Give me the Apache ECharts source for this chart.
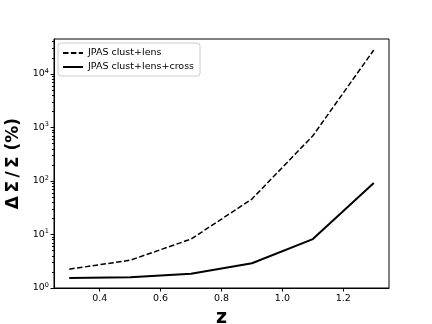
<!DOCTYPE html>
<html>
<head>
<meta charset="utf-8">
<script src="https://cdn.jsdelivr.net/npm/echarts@6/dist/echarts.min.js"></script>
<style>
  html, body { margin: 0; padding: 0; background: #fff; }
  #chart { width: 432px; height: 324px; }
</style>
</head>
<body>
<div id="chart"></div>
<script>
const Z = [0.3, 0.5, 0.7, 0.9, 1.1, 1.3];
const CLUST_LENS = [2.25, 3.3, 8.2, 46, 700, 28000];
const CLUST_LENS_CROSS = [1.53, 1.58, 1.85, 2.9, 8.2, 92];
const X_TICKS = [0.4, 0.6, 0.8, 1.0, 1.2];
const Y_TICKS = [1, 10, 100, 1000, 10000];
const Y_MINOR = [2, 3, 4, 5, 6, 7, 8, 9, 20, 30, 40, 50, 60, 70, 80, 90,
  200, 300, 400, 500, 600, 700, 800, 900, 2000, 3000, 4000, 5000, 6000, 7000, 8000, 9000,
  20000, 30000, 40000];
const Y_MIN = 1, Y_MAX = 45000;

const chart = echarts.init(document.getElementById("chart"));
const font = "DejaVu Sans";

const black = { color: "#000" };

chart.setOption({
  animation: false,
  textStyle: { fontFamily: font },
  grid: {
    left: 54, right: 43, top: 39, bottom: 36,
    outerBoundsMode: "none", containLabel: false,
    show: true, borderColor: "#000", borderWidth: 1
  },
  legend: {
    left: 58, top: 43, orient: "vertical",
    itemWidth: 20, itemHeight: 10, itemGap: 4,
    padding: [5, 6, 4, 4],
    borderColor: "#ccc", borderWidth: 1, borderRadius: 3,
    itemStyle: { opacity: 0, borderWidth: 0 },
    textStyle: { fontSize: 9.5, color: "#000", fontFamily: font }
  },
  xAxis: {
    type: "value", min: 0.25, max: 1.35,
    name: "z", nameLocation: "middle", nameGap: 17,
    nameTextStyle: { fontSize: 19, color: "#000", fontFamily: font, fontWeight: "bold" },
    axisLine: { lineStyle: black },
    axisTick: { length: 3.5, lineStyle: black, customValues: X_TICKS },
    axisLabel: { fontSize: 9.5, color: "#000", margin: 6, customValues: X_TICKS, formatter: v => v.toFixed(1) },
    splitLine: { show: false }
  },
  yAxis: [
    {
      type: "log", logBase: 10, min: () => Y_MIN, max: () => Y_MAX,
      name: "Δ\u2009Σ\u2009/\u2009Σ (%)", nameLocation: "middle", nameGap: 23, nameRotate: 90,
      nameTextStyle: { fontSize: 17, color: "#000", fontFamily: font, fontWeight: "bold" },
      axisLine: { lineStyle: black },
      axisTick: { length: 3.5, lineStyle: black, customValues: Y_TICKS },
      axisLabel: {
        fontSize: 9.5, color: "#000", margin: 5, customValues: Y_TICKS,
        formatter: v => "10{s|" + Math.round(Math.log10(v)) + "}",
        rich: { s: { fontSize: 6.5, verticalAlign: "top", padding: [0, 0, 6, 0], color: "#000" } }
      },
      splitLine: { show: false }
    },
    {
      type: "log", logBase: 10, min: () => Y_MIN, max: () => Y_MAX, position: "left",
      axisLine: { show: false },
      axisTick: { length: 2, lineStyle: black, customValues: Y_MINOR },
      axisLabel: { show: false },
      splitLine: { show: false }
    }
  ],
  series: [
    {
      name: "JPAS clust+lens", type: "line",
      data: Z.map((z, i) => [z, CLUST_LENS[i]]),
      symbol: "none", color: "#000",
      lineStyle: { color: "#000", width: 1.5, type: [5.5, 2.4] }
    },
    {
      name: "JPAS clust+lens+cross", type: "line",
      data: Z.map((z, i) => [z, CLUST_LENS_CROSS[i]]),
      symbol: "none", color: "#000",
      lineStyle: { color: "#000", width: 2 }
    }
  ]
});
</script>
</body>
</html>
